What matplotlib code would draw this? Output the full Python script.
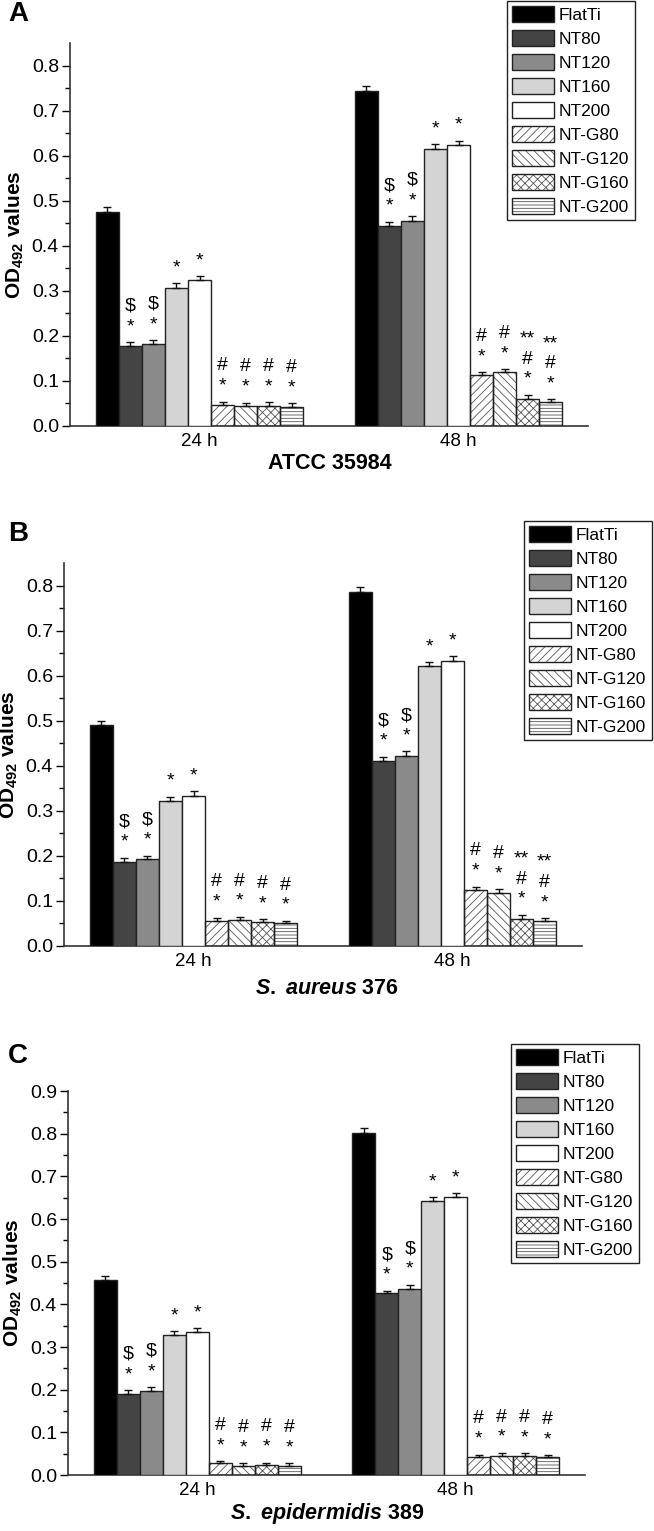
import numpy as np
import matplotlib
matplotlib.use("Agg")
import matplotlib.pyplot as plt
from matplotlib.patches import Patch
from matplotlib.legend_handler import HandlerTuple

plt.rcParams['font.family'] = ['Liberation Sans', 'DejaVu Sans']
plt.rcParams['hatch.linewidth'] = 0.6
plt.rcParams['mathtext.fontset'] = 'custom'
plt.rcParams['mathtext.rm'] = 'Liberation Sans:bold'
plt.rcParams['mathtext.it'] = 'Liberation Sans:italic:bold'
plt.rcParams['mathtext.bf'] = 'Liberation Sans:bold'

# Groups and series
grupos = ['24 h', '48 h']
series = ['FlatTi', 'NT80', 'NT120', 'NT160', 'NT200',
          'NT-G80', 'NT-G120', 'NT-G160', 'NT-G200']

# Panel A - ATCC 35984
a_24 = [0.475, 0.178, 0.182, 0.307, 0.324, 0.047, 0.045, 0.045, 0.043]
a_48 = [0.744, 0.443, 0.456, 0.615, 0.623, 0.113, 0.119, 0.061, 0.053]
a_err_24 = [0.011, 0.008, 0.009, 0.010, 0.009, 0.007, 0.007, 0.008, 0.008]
a_err_48 = [0.011, 0.010, 0.010, 0.010, 0.010, 0.007, 0.007, 0.008, 0.006]

# Panel B - S. aureus 376
b_24 = [0.490, 0.187, 0.192, 0.321, 0.333, 0.056, 0.058, 0.053, 0.050]
b_48 = [0.785, 0.411, 0.422, 0.621, 0.633, 0.124, 0.118, 0.061, 0.056]
b_err_24 = [0.010, 0.009, 0.008, 0.010, 0.010, 0.007, 0.007, 0.007, 0.006]
b_err_48 = [0.011, 0.009, 0.010, 0.009, 0.010, 0.008, 0.008, 0.008, 0.006]

# Panel C - S. epidermidis 389
c_24 = [0.456, 0.190, 0.197, 0.328, 0.335, 0.027, 0.022, 0.024, 0.022]
c_48 = [0.802, 0.426, 0.437, 0.643, 0.652, 0.042, 0.045, 0.045, 0.042]
c_err_24 = [0.010, 0.009, 0.009, 0.009, 0.009, 0.006, 0.006, 0.005, 0.005]
c_err_48 = [0.011, 0.006, 0.009, 0.008, 0.009, 0.006, 0.007, 0.006, 0.005]

# Significance marks above each bar
marcas_24 = ['', '$\n*', '$\n*', '*', '*', '#\n*', '#\n*', '#\n*', '#\n*']
marcas_48 = ['', '$\n*', '$\n*', '*', '*', '#\n*', '#\n*', '**\n#\n*', '**\n#\n*']
marcas_48_c = ['', '$\n*', '$\n*', '*', '*', '#\n*', '#\n*', '#\n*', '#\n*']

# Bar styles
cores = ['#000000', '#444444', '#8a8a8a', '#d4d4d4', '#ffffff',
         '#ffffff', '#ffffff', '#ffffff', '#ffffff']
hachuras = [None, None, None, None, None, '////', '\\\\\\\\', 'xxxx', '-----']


def desenha_painel(ax, v24, v48, e24, e48, m24, m48, ymax, yticks):
    x = np.arange(len(grupos)) + 1
    w = 0.8 / len(series)
    for i in range(len(series)):
        pos = x + (i - 4) * w
        vals = [v24[i], v48[i]]
        errs = [e24[i], e48[i]]
        if hachuras[i]:
            ax.bar(pos, vals, w, color=cores[i], hatch=hachuras[i],
                   edgecolor='#555555', linewidth=0, zorder=2)
            ax.bar(pos, vals, w, fill=False, edgecolor='#222222',
                   linewidth=1.0, zorder=3)
        else:
            ax.bar(pos, vals, w, color=cores[i], edgecolor='#222222',
                   linewidth=1.0, zorder=3)
        ax.errorbar(pos, vals, yerr=[[0, 0], errs], fmt='none',
                    ecolor='#111111', elinewidth=1.0, capsize=3,
                    capthick=1.0, zorder=4)
        for p, v, e, m in zip(pos, vals, errs, [m24[i], m48[i]]):
            if m:
                ax.annotate(m, (p, v + e), xytext=(0, 5),
                            textcoords='offset points', ha='center',
                            va='bottom', fontsize=14, linespacing=1.25)

    ax.set_xlim(0.5, 2.5)
    ax.set_ylim(0, ymax)
    ax.set_xticks(x)
    ax.set_xticklabels(grupos, fontsize=13.5)
    ax.tick_params(axis='x', length=0, pad=5)
    ax.set_yticks(yticks)
    ax.set_yticklabels([f'{t:.1f}' for t in yticks], fontsize=14)
    ax.set_yticks(np.arange(0.05, ymax, 0.1), minor=True)
    ax.tick_params(axis='y', which='major', length=6, width=1.0, direction='out', pad=2)
    ax.tick_params(axis='y', which='minor', length=3.5, width=1.0, direction='out')
    ax.spines['top'].set_visible(False)
    ax.spines['right'].set_visible(False)
    ax.spines['left'].set_linewidth(1.2)
    ax.spines['bottom'].set_linewidth(1.2)
    ax.spines['left'].set_color('#333333')
    ax.spines['bottom'].set_color('#333333')
    ax.set_ylabel('OD$_{492}$ values', fontsize=15, fontweight='bold', labelpad=4)


def legenda(fig, ax, x0, y0):
    handles = []
    for i in range(len(series)):
        if hachuras[i]:
            handles.append((Patch(facecolor=cores[i], hatch=hachuras[i],
                                  edgecolor='#555555', linewidth=0),
                            Patch(fill=False, edgecolor='#222222', linewidth=1.0)))
        else:
            handles.append(Patch(facecolor=cores[i], edgecolor='#222222', linewidth=1.0))
    leg = ax.legend(handles, series, loc='upper left',
                    bbox_to_anchor=(x0 / 654, 1 - y0 / 1531),
                    bbox_transform=fig.transFigure, borderaxespad=0,
                    fontsize=12.5, handlelength=2.4, handleheight=1.0,
                    labelspacing=0.42, handletextpad=0.3, borderpad=0.3,
                    fancybox=False, framealpha=1,
                    handler_map={tuple: HandlerTuple(ndivide=1, pad=0)})
    leg.get_frame().set_edgecolor('#222222')
    leg.get_frame().set_linewidth(1.0)


fig = plt.figure(figsize=(6.54, 15.31), dpi=100)

ax_a = fig.add_axes([70 / 654, 1105 / 1531, 518 / 654, 383 / 1531])
ax_b = fig.add_axes([64 / 654, 585 / 1531, 518 / 654, 383 / 1531])
ax_c = fig.add_axes([68 / 654, 56 / 1531, 517 / 654, 384 / 1531])

desenha_painel(ax_a, a_24, a_48, a_err_24, a_err_48, marcas_24, marcas_48,
               0.85, np.arange(0, 0.81, 0.1))
desenha_painel(ax_b, b_24, b_48, b_err_24, b_err_48, marcas_24, marcas_48,
               0.85, np.arange(0, 0.81, 0.1))
desenha_painel(ax_c, c_24, c_48, c_err_24, c_err_48, marcas_24, marcas_48_c,
               0.9, np.arange(0, 0.91, 0.1))

legenda(fig, ax_a, 507, 1)
legenda(fig, ax_b, 524, 521)
legenda(fig, ax_c, 511, 1044)

# Panel letters and strain titles
for letra, y in [('A', 14), ('B', 534), ('C', 1056)]:
    fig.text(8 / 654, 1 - y / 1531, letra, fontsize=20, fontweight='bold',
             va='center', ha='left')

fig.text(330 / 654, 1 - 463 / 1531, 'ATCC 35984', fontsize=15.5,
         fontweight='bold', ha='center', va='center')
fig.text(327 / 654, 1 - 988 / 1531, r'$\it{S.\ aureus}$ 376', fontsize=15.5,
         fontweight='bold', ha='center', va='center')
fig.text(327 / 654, 1 - 1514 / 1531, r'$\it{S.\ epidermidis}$ 389', fontsize=15.5,
         fontweight='bold', ha='center', va='center')

fig.savefig('out.png', dpi=100)
